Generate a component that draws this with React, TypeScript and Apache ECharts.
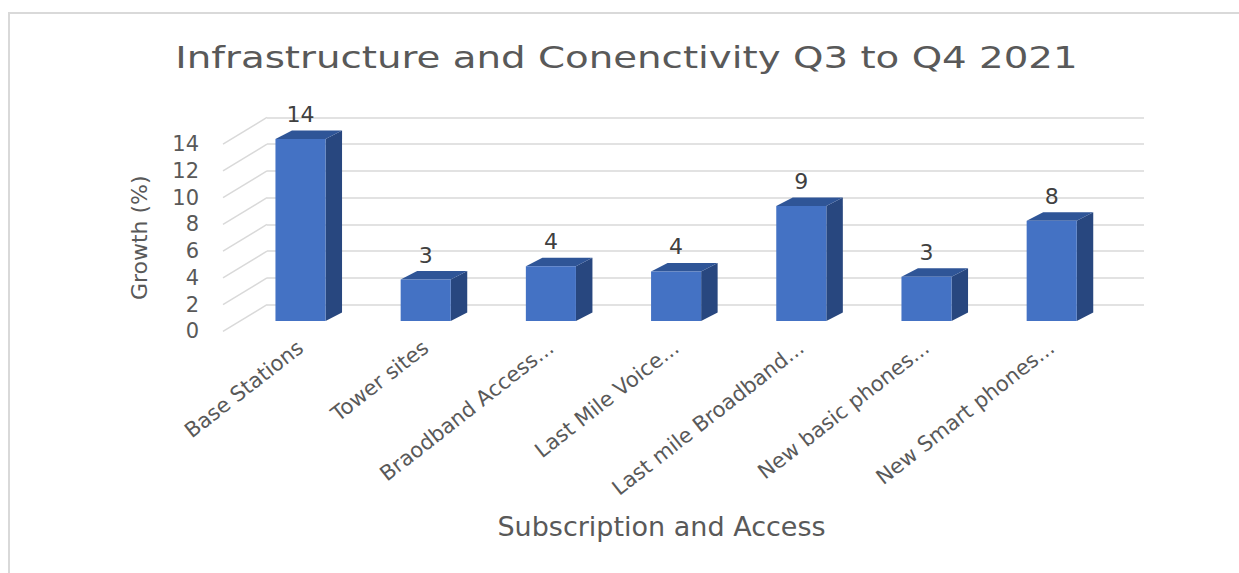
import React, { useEffect, useRef } from 'react';
import * as echarts from 'echarts';

const titleText = 'Infrastructure and Conenctivity Q3 to Q4 2021';
const xAxisTitle = 'Subscription and Access';
const yAxisTitle = 'Growth (%)';
const categories = [
  'Base Stations',
  'Tower sites',
  'Braodband Access...',
  'Last Mile Voice...',
  'Last mile Broadband...',
  'New basic phones...',
  'New Smart phones...',
];
const growth = [13.6, 3.1, 4.1, 3.7, 8.6, 3.3, 7.5];
const yTicks = [0, 2, 4, 6, 8, 10, 12, 14];
const yMin = 0;
const yMax = 14;
const yStep = 2;

// layout (3D oblique projection constants)
const DEPTH_X = 44;
const DEPTH_Y = 26.7;
const FRONT = { left: 223, top: 144.1, width: 877, height: 187.3 };
const BAR_PLANE = { left: 237.9, top: 133.7, width: 876.4, height: 187.3 };
const BAR_DX = 16.5;
const BAR_DY = 8.5;
const BAR_FRAC = 0.4;
const FONT = '"DejaVu Sans", "Open Sans", sans-serif';
const TEXT = '#595959';

export default function App() {
  const ref = useRef<HTMLDivElement>(null);
  useEffect(() => {
    document.body.style.margin = '0';
    const chart = echarts.init(ref.current!, null, { renderer: 'svg' });
    const option: any = {
      animation: false,
      backgroundColor: '#ffffff',
      textStyle: { fontFamily: FONT },
      graphic: [
        {
          type: 'rect',
          shape: { x: 9, y: 13, width: 1240, height: 570 },
          style: { fill: 'none', stroke: '#d9d9d9', lineWidth: 2 },
          silent: true,
        },
        {
          type: 'text',
          x: 626.5,
          y: 57,
          scaleX: 1.25,
          silent: true,
          style: {
            text: titleText,
            align: 'center',
            verticalAlign: 'middle',
            fill: TEXT,
            fontSize: 31,
            fontFamily: FONT,
          },
        },
      ],
      grid: [
        { left: FRONT.left, top: FRONT.top, width: FRONT.width, height: FRONT.height },
        { left: FRONT.left + DEPTH_X, top: FRONT.top - DEPTH_Y, width: FRONT.width, height: FRONT.height },
        { left: BAR_PLANE.left, top: BAR_PLANE.top, width: BAR_PLANE.width, height: BAR_PLANE.height },
      ],
      xAxis: [
        {
          gridIndex: 0, type: 'value', min: 0, max: 1,
          axisLine: { show: false }, axisTick: { show: false }, axisLabel: { show: false }, splitLine: { show: false },
          name: xAxisTitle, nameLocation: 'middle', nameGap: 182,
          nameTextStyle: { fontFamily: FONT, fontSize: 27, color: TEXT },
        },
        {
          gridIndex: 1, type: 'value', min: 0, max: 1, show: false,
        },
        {
          gridIndex: 2, type: 'category', data: categories,
          axisLine: { show: false }, axisTick: { show: false }, splitLine: { show: false },
          axisLabel: { rotate: 38, margin: 24, fontFamily: FONT, fontSize: 21, color: TEXT, interval: 0 },
        },
      ],
      yAxis: [
        {
          gridIndex: 0, type: 'value', min: yMin, max: yMax, interval: yStep,
          axisLine: { show: false }, axisTick: { show: false }, splitLine: { show: false },
          axisLabel: { margin: 24, fontFamily: FONT, fontSize: 21, color: TEXT },
          name: yAxisTitle, nameLocation: 'middle', nameGap: 73, nameRotate: 90,
          nameTextStyle: { fontFamily: FONT, fontSize: 22, color: TEXT },
        },
        {
          gridIndex: 1, type: 'value', min: yMin, max: yMax, interval: yStep,
          axisLine: { show: false }, axisTick: { show: false }, axisLabel: { show: false },
          splitLine: { show: true, lineStyle: { color: '#d9d9d9', width: 1.5 } },
        },
        {
          gridIndex: 2, type: 'value', min: yMin, max: yMax, interval: yStep, show: false,
        },
      ],
      series: [
        {
          type: 'custom',
          xAxisIndex: 0,
          yAxisIndex: 0,
          data: yTicks.map((v) => [0, v]),
          silent: true,
          renderItem: (params: any, api: any) => {
            const p = api.coord([0, api.value(1)]);
            return {
              type: 'line',
              shape: { x1: p[0], y1: p[1], x2: p[0] + DEPTH_X, y2: p[1] - DEPTH_Y },
              style: { stroke: '#d9d9d9', lineWidth: 1.5 },
            };
          },
        },
        {
          type: 'custom',
          xAxisIndex: 2,
          yAxisIndex: 2,
          data: growth.map((v, i) => [i, v]),
          z: 5,
          renderItem: (params: any, api: any) => {
            const idx = api.value(0);
            const val = api.value(1);
            const topPt = api.coord([idx, val]);
            const basePt = api.coord([idx, 0]);
            const bw = api.size([1, 0])[0] * BAR_FRAC;
            const l = topPt[0] - bw / 2;
            const r = topPt[0] + bw / 2;
            const t = topPt[1];
            const b = basePt[1];
            return {
              type: 'group',
              children: [
                {
                  type: 'polygon',
                  shape: { points: [[r, t], [r + BAR_DX, t - BAR_DY], [r + BAR_DX, b - BAR_DY], [r, b]] },
                  style: { fill: '#28477f' },
                },
                {
                  type: 'polygon',
                  shape: { points: [[l, t], [r, t], [r + BAR_DX, t - BAR_DY], [l + BAR_DX, t - BAR_DY]] },
                  style: { fill: '#2f5597' },
                },
                {
                  type: 'rect',
                  shape: { x: l, y: t, width: bw, height: b - t },
                  style: { fill: '#4472c4' },
                },
                {
                  type: 'text',
                  style: {
                    text: String(Math.round(val)),
                    x: topPt[0],
                    y: t - BAR_DY - 16,
                    align: 'center',
                    verticalAlign: 'middle',
                    fill: '#404040',
                    fontSize: 22,
                    fontFamily: FONT,
                  },
                },
              ],
            };
          },
        },
      ],
    };
    chart.setOption(option);
    return () => chart.dispose();
  }, []);
  return <div ref={ref} style={{ width: 1239, height: 573 }} />;
}
